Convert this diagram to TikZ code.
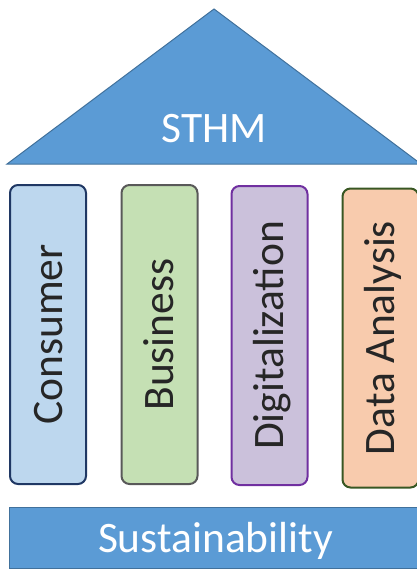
\documentclass[tikz,border=0pt]{standalone}
\usepackage{fontspec}
\setmainfont{Carlito}
\usetikzlibrary{positioning}
\definecolor{roofblue}{HTML}{5B9BD5}
\definecolor{roofline}{HTML}{41719C}
\definecolor{consfill}{HTML}{BDD7EE}
\definecolor{consline}{HTML}{203864}
\definecolor{busfill}{HTML}{C5E0B4}
\definecolor{busline}{HTML}{595959}
\definecolor{digfill}{HTML}{CBC1DB}
\definecolor{digline}{HTML}{7030A0}
\definecolor{datafill}{HTML}{F8CBAD}
\definecolor{dataline}{HTML}{385723}
\newcommand{\housefont}{\fontsize{43.5}{52}\selectfont}

\begin{document}
\begin{tikzpicture}[x=1pt, y=-1pt,
    roof/.style={fill=roofblue, draw=roofline, line width=1pt},
    pillar/.style={draw, line width=2pt, rounded corners=8pt, rotate=90,
        minimum width=299pt, minimum height=76pt, inner sep=0pt,
        text height=28pt, text depth=0pt, font=\housefont, text=black!85},
    plinth/.style={roof, minimum width=413pt, minimum height=61pt, inner sep=0pt,
        text height=28pt, text depth=0pt, font=\housefont, text=white}]
    \useasboundingbox (0,0) rectangle (417,570);
    \clip (0,0) rectangle (417,570);

    % Roof
    \coordinate (apex) at (214,9);
    \coordinate (eaveL) at (7,164);
    \coordinate (eaveR) at (421,164);
    \draw[roof] (eaveL) -- (apex) -- (eaveR) -- cycle;
    \node[font=\housefont, text=white, text height=28pt, text depth=0pt, inner sep=0pt] (sthm) at (214,128) {STHM};

    % Pillars
    \foreach \name/\txt/\x/\y/\fillc/\linec in {consumer/Consumer/48/334.5/consfill/consline,
        business/Business/159.5/334.5/busfill/busline,
        digital/Digitalization/269.5/335.5/digfill/digline,
        data/Data Analysis/380.5/338/datafill/dataline} {
        \node[pillar, fill=\fillc, draw=\linec] (\name) at (\x,\y) {\txt};
    }

    % Base
    \node[plinth] (sustain) at (215.5,538) {Sustainability};
\end{tikzpicture}
\end{document}
